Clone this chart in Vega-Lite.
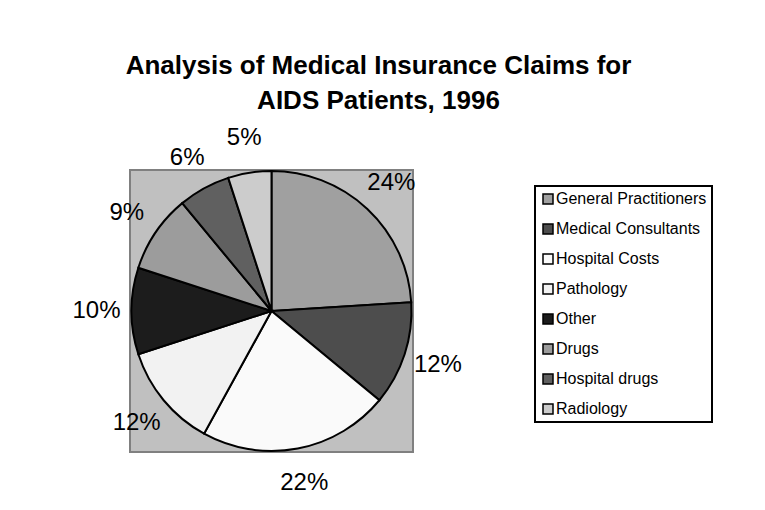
{
  "$schema": "https://vega.github.io/schema/vega-lite/v6.json",
  "width": 283,
  "height": 282,
  "autosize": "none",
  "padding": {"left": 130, "top": 170, "right": 352, "bottom": 58},
  "background": "white",
  "view": {"fill": "#c0c0c0", "stroke": "#808080", "strokeWidth": 2},
  "title": {
    "text": ["Analysis of Medical Insurance Claims for", "AIDS Patients, 1996"],
    "anchor": "middle",
    "frame": "group",
    "dx": 107,
    "offset": 12,
    "font": "Liberation Sans",
    "fontSize": 26,
    "fontWeight": "bold",
    "lineHeight": 35,
    "color": "black"
  },
  "data": {
    "values": [
      {"category": "General Practitioners", "share": 0.24, "i": 1},
      {"category": "Medical Consultants", "share": 0.12, "i": 2},
      {"category": "Hospital Costs", "share": 0.22, "i": 3},
      {"category": "Pathology", "share": 0.12, "i": 4},
      {"category": "Other", "share": 0.10, "i": 5},
      {"category": "Drugs", "share": 0.09, "i": 6},
      {"category": "Hospital drugs", "share": 0.06, "i": 7},
      {"category": "Radiology", "share": 0.05, "i": 8}
    ]
  },
  "encoding": {
    "theta": {"field": "share", "type": "quantitative", "stack": true},
    "order": {"field": "i", "type": "quantitative"}
  },
  "layer": [
    {
      "mark": {"type": "arc", "outerRadius": 140, "stroke": "black", "strokeWidth": 2},
      "encoding": {
        "color": {
          "field": "category",
          "type": "nominal",
          "sort": null,
          "scale": {
            "domain": ["General Practitioners", "Medical Consultants", "Hospital Costs", "Pathology", "Other", "Drugs", "Hospital drugs", "Radiology"],
            "range": ["#a0a0a0", "#4d4d4d", "#fafafa", "#f2f2f2", "#1c1c1c", "#9c9c9c", "#606060", "#cccccc"]
          },
          "legend": {
            "orient": "none",
            "legendX": 405,
            "legendY": 16,
            "title": null,
            "strokeColor": "black",
            "padding": 5,
            "labelFont": "Liberation Sans",
            "labelFontSize": 16,
            "labelColor": "black",
            "labelLimit": 300,
            "symbolType": "square",
            "symbolSize": 100,
            "symbolStrokeColor": "black",
            "symbolStrokeWidth": 1.5,
            "rowPadding": 14,
            "labelOffset": 0,
            "encode": {"legend": {"update": {"strokeWidth": {"value": 2}}}}
          }
        }
      }
    },
    {
      "mark": {"type": "text", "radius": 175, "font": "Liberation Sans", "fontSize": 24, "color": "black"},
      "encoding": {
        "text": {"field": "share", "type": "quantitative", "format": ".0%"}
      }
    }
  ]
}
